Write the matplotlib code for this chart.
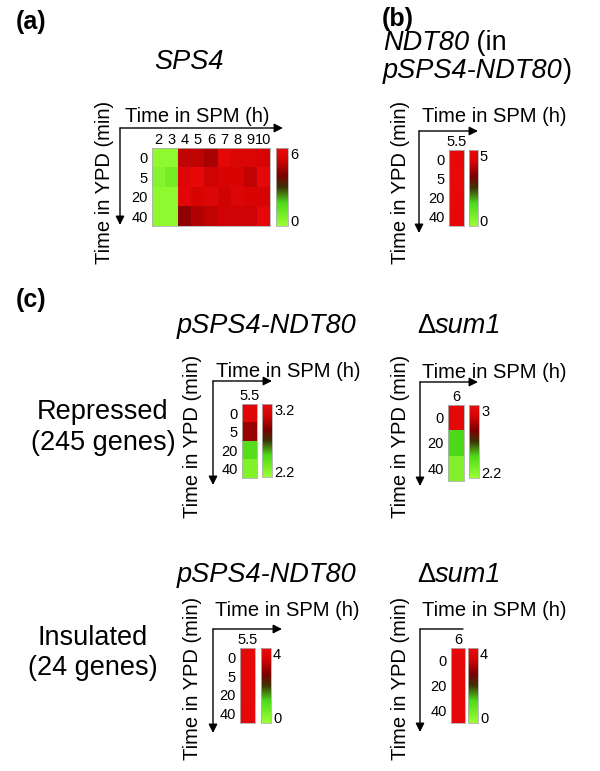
import numpy as np
import matplotlib
matplotlib.use('Agg')
import matplotlib.pyplot as plt
from matplotlib.colors import LinearSegmentedColormap, Normalize
from matplotlib.cm import ScalarMappable
from matplotlib.patches import FancyArrowPatch
from matplotlib.offsetbox import TextArea, HPacker, AnnotationBbox

plt.rcParams['font.family'] = ['Liberation Sans', 'DejaVu Sans']

W, H = 600, 771

# --- data ---
ypd4 = ['0', '5', '20', '40']
ypd3 = ['0', '20', '40']
spm_a = ['2', '3', '4', '5', '6', '7', '8', '9', '10']

# (a) SPS4 expression, rows = time in YPD, cols = time in SPM
sps4 = [[0.3, 0.3, 4.8, 4.8, 4.5, 5.7, 5.3, 5.3, 5.1],
        [0.5, 0.9, 5.5, 5.9, 5.0, 5.2, 5.2, 4.8, 5.8],
        [0.3, 0.3, 5.6, 5.2, 5.4, 5.0, 5.4, 5.2, 5.2],
        [0.3, 0.3, 4.2, 4.6, 4.8, 5.0, 5.0, 5.0, 5.8]]
# (b) NDT80 in pSPS4-NDT80, 5.5 h
ndt80 = [4.9, 4.95, 4.9, 4.85]
# (c) repressed genes
rep_pndt80 = [3.12, 2.92, 2.46, 2.3]
rep_sum1 = [2.97, 2.44, 2.28]
# (c) insulated genes
ins_pndt80 = [3.9, 3.92, 3.9, 3.88]
ins_sum1 = [3.9, 3.9, 3.88]

cmap = LinearSegmentedColormap.from_list(
    'gr', [(0.0, '#9cff33'), (0.3, '#4cd91a'), (0.5, '#3d3306'),
           (0.65, '#7a0000'), (0.85, '#d60404'), (1.0, '#ea0a0a')])

TICK = 10.5
fig = plt.figure(figsize=(6, 7.71), dpi=100)


def box(x0, y0, x1, y1):
    return [x0 / W, 1 - y1 / H, (x1 - x0) / W, (y1 - y0) / H]


def pt(x, y):
    return (x / W, 1 - y / H)


def text(x, y, s, **kw):
    fig.text(x / W, 1 - y / H, s, **kw)


def rich(x, y, parts, size=19.5):
    # parts: list of (string, style) laid out on a common baseline
    kids = [TextArea(s, textprops=dict(fontsize=size, style=st))
            for s, st in parts]
    pack = HPacker(children=kids, align='baseline', pad=0, sep=0)
    ab = AnnotationBbox(pack, pt(x, y), xycoords='figure fraction',
                        box_alignment=(0, 0.5), frameon=False, pad=0)
    fig.add_artist(ab)


def arrow(p0, p1, head=True):
    a = FancyArrowPatch(pt(*p0), pt(*p1), transform=fig.transFigure,
                        arrowstyle='-|>' if head else '-', mutation_scale=13,
                        lw=1.0, color='black', shrinkA=0, shrinkB=0)
    fig.add_artist(a)


def heatmap(hm, cb, vals, rows, cols, vmin, vmax):
    ax = fig.add_axes(box(*hm))
    v = np.asarray(vals, float)
    if v.ndim == 1:
        v = v[:, None]
    ax.imshow(v, cmap=cmap, vmin=vmin, vmax=vmax, aspect='auto',
              interpolation='nearest')
    ax.set_xticks(range(len(cols)), cols)
    ax.set_yticks(range(len(rows)), rows)
    ax.xaxis.tick_top()
    ax.tick_params(axis='x', length=0, labelsize=TICK, pad=1)
    ax.tick_params(axis='y', length=0, labelsize=TICK, pad=3)
    for s in ax.spines.values():
        s.set_color('#b0b0b0')
        s.set_linewidth(0.6)

    cax = fig.add_axes(box(*cb))
    cbar = fig.colorbar(ScalarMappable(Normalize(vmin, vmax), cmap), cax=cax)
    cbar.set_ticks([])
    cbar.outline.set_edgecolor('#b0b0b0')
    cbar.outline.set_linewidth(0.6)
    tr = cax.get_yaxis_transform()
    cax.text(1.2, vmax, '%g' % vmax, transform=tr, va='top', ha='left',
             fontsize=TICK)
    cax.text(1.2, vmin, '%g' % vmin, transform=tr, va='baseline', ha='left',
             fontsize=TICK)


def axes_labels(corner, spm_end, ypd_end, spm_x, spm_y, ypd_x, ypd_y, head=True):
    arrow(corner, (spm_end, corner[1]), head)
    arrow(corner, (corner[0], ypd_end))
    text(spm_x, spm_y, 'Time in SPM (h)', fontsize=14.5, ha='left', va='center')
    text(ypd_x, ypd_y, 'Time in YPD (min)', fontsize=14.5, rotation=90,
         ha='center', va='center')


# panel labels and titles
text(16, 22, '(a)', fontsize=18, fontweight='bold', va='center')
text(382, 19, '(b)', fontsize=18, fontweight='bold', va='center')
text(16, 300, '(c)', fontsize=18, fontweight='bold', va='center')

text(189, 62, 'SPS4', fontsize=19.5, style='italic', ha='center', va='center')
rich(383, 43, [('NDT80', 'italic'), (' (in', 'normal')])
rich(383, 71, [('pSPS4-NDT80', 'italic'), (')', 'normal')])

for ty in (326, 575):
    text(177, ty, 'pSPS4-NDT80', fontsize=19.5, style='italic', va='center')
    rich(417, ty, [('\u0394', 'normal'), ('sum1', 'italic')])

text(103, 412, 'Repressed', fontsize=19.5, ha='center', va='center')
text(103, 443, '(245 genes)', fontsize=19.5, ha='center', va='center')
text(93, 638, 'Insulated', fontsize=19.5, ha='center', va='center')
text(93, 668, '(24 genes)', fontsize=19.5, ha='center', va='center')

# (a)
heatmap((152, 148, 270, 226), (276, 148, 288, 226), sps4, ypd4, spm_a, 0, 6)
axes_labels((120, 128), 283, 225, 125, 116, 105, 182)

# (b)
heatmap((449, 150, 464, 226), (469, 150, 478, 226), ndt80, ypd4, ['5.5'], 0, 5)
axes_labels((419, 131), 478, 233, 422, 117, 400, 182)

# (c) repressed
heatmap((242, 404, 257, 478), (262, 404, 272, 477), rep_pndt80, ypd4, ['5.5'],
        2.2, 3.2)
axes_labels((213, 381), 272, 485, 216, 371, 193, 436)
heatmap((448, 405, 464, 481), (469, 405, 479, 478), rep_sum1, ypd3, ['6'],
        2.2, 3)
axes_labels((420, 382), 478, 486, 422, 372, 400, 436)

# (c) insulated
heatmap((240, 648, 255, 723), (261, 648, 271, 723), ins_pndt80, ypd4, ['5.5'],
        0, 4)
axes_labels((213, 629), 282, 733, 215, 611, 193, 678)
heatmap((451, 648, 465, 723), (468, 648, 478, 723), ins_sum1, ypd3, ['6'],
        0, 4)
axes_labels((420, 629), 463, 732, 422, 611, 400, 678, head=False)

fig.savefig('out.png', dpi=100)
